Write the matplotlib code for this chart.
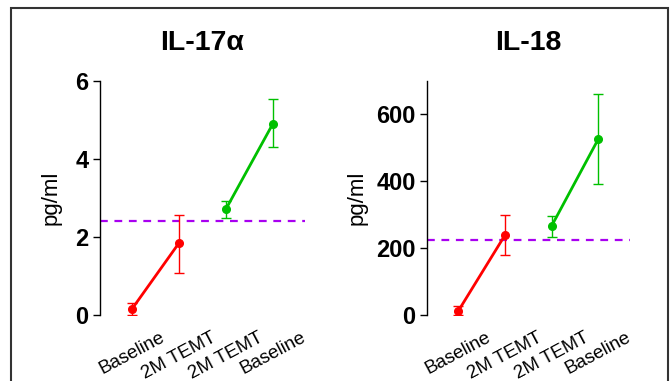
import matplotlib.pyplot as plt
from matplotlib.patches import Rectangle

plt.rcParams['font.family'] = ['Liberation Sans', 'DejaVu Sans']

# Category labels along the x axis
categories = ['Baseline', '2M TEMT', '2M TEMT', 'Baseline']

# IL-17a (pg/ml): red group = first two points, green group = last two
il17_mean = [0.15, 1.84, 2.71, 4.90]
il17_low = [0.0, 1.09, 2.48, 4.31]
il17_high = [0.31, 2.56, 2.92, 5.53]
il17_ref = 2.41

# IL-18 (pg/ml)
il18_mean = [13, 239, 266, 525]
il18_low = [0, 179, 234, 391]
il18_high = [27, 298, 296, 661]
il18_ref = 224

red = '#ff0000'
green = '#00c000'
purple = '#a800f0'

fig = plt.figure(figsize=(6.7, 3.81), dpi=100)

# thin frame around the figure (open at the bottom)
fig.patches.append(Rectangle((11 / 670, -0.05), 657 / 670, 1.05 - 8 / 381,
                             transform=fig.transFigure, fill=False,
                             edgecolor='#333333', linewidth=1.5))


def panel(rect, title, mean, low, high, ref, ylim, yticks):
    ax = fig.add_axes(rect)
    x = list(range(len(categories)))
    for idx, col in [((0, 1), red), ((2, 3), green)]:
        xs = [x[i] for i in idx]
        ys = [mean[i] for i in idx]
        err = [[mean[i] - low[i] for i in idx], [high[i] - mean[i] for i in idx]]
        ax.errorbar(xs, ys, yerr=err, color=col, linewidth=2, marker='o',
                    markersize=5.5, capsize=3.5, elinewidth=1, capthick=1, zorder=3)
    ax.axhline(ref, color=purple, linestyle=(0, (3.5, 3)), linewidth=1.6, zorder=2)
    ax.set_xlim(-0.68, 3.68)
    ax.set_ylim(*ylim)
    ax.set_yticks(yticks)
    ax.set_xticks(x)
    ax.set_xticklabels(categories, rotation=28, ha='center', va='top', fontsize=13.5)
    ax.tick_params(axis='x', length=0, pad=10)
    ax.tick_params(axis='y', length=5, width=1, labelsize=17, pad=3)
    for lab in ax.get_yticklabels():
        lab.set_fontweight('bold')
    for s in ['top', 'right', 'bottom']:
        ax.spines[s].set_visible(False)
    ax.spines['left'].set_linewidth(1)
    ax.set_ylabel('pg/ml', fontsize=16)
    ax.set_title(title, fontsize=20.5, fontweight='bold', pad=22)
    return ax


ax1 = panel([0.149, 0.173, 0.306, 0.615], 'IL-17α',
            il17_mean, il17_low, il17_high, il17_ref, (0, 6), [0, 2, 4, 6])
ax1.yaxis.labelpad = 10
ax2 = panel([0.637, 0.173, 0.303, 0.615], 'IL-18',
            il18_mean, il18_low, il18_high, il18_ref, (0, 700), [0, 200, 400, 600])
ax2.yaxis.labelpad = 6

fig.savefig('out.png', dpi=100)
